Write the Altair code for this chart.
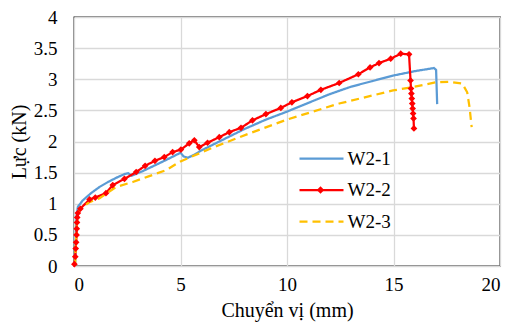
import altair as alt
import pandas as pd

series_names = ["W2-1", "W2-2", "W2-3"]
colors = ["#5B9BD5", "#FF0000", "#FFC000"]

w21_x = [0.05, 0.08, 0.12, 0.18, 0.4, 0.8, 1.2, 1.6, 2.0, 2.4, 2.55, 2.7, 3.2, 4.0, 4.6, 5.0, 5.15, 5.35, 5.6, 6.0, 7.0, 8.0, 9.0, 10.0, 11.0, 12.0, 13.0, 14.0, 15.0, 16.0, 16.9, 17.0, 17.05]
w21_y = [0, 0.4, 0.8, 0.95, 1.05, 1.17, 1.27, 1.35, 1.42, 1.48, 1.49, 1.45, 1.52, 1.65, 1.75, 1.82, 1.76, 1.74, 1.78, 1.86, 2.03, 2.2, 2.35, 2.48, 2.62, 2.76, 2.88, 2.97, 3.06, 3.13, 3.18, 3.15, 2.6]

w22_x = [0.02, 0.06, 0.08, 0.1, 0.12, 0.13, 0.14, 0.15, 0.18, 0.3, 0.73, 1.0, 1.5, 1.82, 2.37, 2.92, 3.34, 3.8, 4.24, 4.63, 5.02, 5.41, 5.65, 5.88, 6.27, 6.82, 7.29, 7.84, 8.38, 9.01, 9.71, 10.23, 10.96, 11.59, 12.45, 13.35, 13.9, 14.32, 14.87, 15.34, 15.73, 15.8, 15.82, 15.84, 15.86, 15.88, 15.9, 15.92, 15.94, 15.96]
w22_y = [0.03, 0.15, 0.28, 0.38, 0.5, 0.6, 0.7, 0.78, 0.85, 0.92, 1.07, 1.1, 1.17, 1.30, 1.40, 1.51, 1.61, 1.69, 1.75, 1.83, 1.87, 1.97, 2.02, 1.91, 1.98, 2.07, 2.15, 2.22, 2.34, 2.44, 2.54, 2.63, 2.73, 2.83, 2.94, 3.08, 3.19, 3.26, 3.33, 3.41, 3.40, 2.98, 2.85, 2.77, 2.69, 2.61, 2.53, 2.45, 2.37, 2.21]

w23_x = [0.05, 0.08, 0.12, 0.18, 0.34, 0.7, 1.2, 1.98, 2.76, 3.5, 4.32, 5.0, 5.4, 6.5, 8.23, 9.98, 12.45, 14.98, 16.0, 16.98, 17.6, 18.23, 18.46, 18.57, 18.67]
w23_y = [0, 0.3, 0.6, 0.85, 0.93, 1.02, 1.09, 1.27, 1.35, 1.44, 1.54, 1.68, 1.74, 1.9, 2.13, 2.35, 2.61, 2.82, 2.88, 2.95, 2.96, 2.93, 2.79, 2.55, 2.23]

x_ticks = [0, 5, 10, 15, 20]
y_ticks = [0, 0.5, 1, 1.5, 2, 2.5, 3, 3.5, 4]

rows = []
for name, xs, ys in [("W2-1", w21_x, w21_y), ("W2-2", w22_x, w22_y), ("W2-3", w23_x, w23_y)]:
    for i, (a, b) in enumerate(zip(xs, ys)):
        rows.append({"series": name, "x": a, "y": b, "idx": i})
df = pd.DataFrame(rows)
legend_df = pd.DataFrame({"series": series_names})

FONT = "Liberation Serif, Times New Roman, serif"

color_scale = alt.Scale(domain=series_names, range=colors)
dash_scale = alt.Scale(domain=series_names, range=[[1, 0], [1, 0], [8, 5]])

x_enc = alt.X("x:Q", scale=alt.Scale(domain=[0, 20], nice=False),
              axis=alt.Axis(values=x_ticks, title="Chuyển vị (mm)", format="~g", labelOverlap=False))
y_enc = alt.Y("y:Q", scale=alt.Scale(domain=[0, 4], nice=False),
              axis=alt.Axis(values=y_ticks, title="Lực (kN)", format="~g", labelOverlap=False))

lines = alt.Chart(df).mark_line(strokeWidth=2.25).encode(
    x=x_enc, y=y_enc,
    color=alt.Color("series:N", scale=color_scale, legend=None),
    strokeDash=alt.StrokeDash("series:N", scale=dash_scale, legend=None),
    order="idx:Q",
)

points = alt.Chart(df).transform_filter(alt.datum.series == "W2-2").mark_point(
    shape="diamond", filled=True, size=45, opacity=1, color="#FF0000"
).encode(x=x_enc, y=y_enc)

data_layer = alt.layer(lines, points)

# legend built from the series names
leg_y = alt.Y("series:N", scale=alt.Scale(type="point", domain=series_names, range=[141.5, 204.5], padding=0), axis=None)
leg_rule = alt.Chart(legend_df).mark_rule(strokeWidth=2.25).encode(
    x=alt.value(225.5), x2=alt.value(269.5), y=leg_y,
    color=alt.Color("series:N", scale=color_scale, legend=None),
    strokeDash=alt.StrokeDash("series:N", scale=dash_scale, legend=None),
)
leg_pt = alt.Chart(legend_df).transform_filter(alt.datum.series == "W2-2").mark_point(
    shape="diamond", filled=True, size=55, opacity=1, color="#FF0000"
).encode(x=alt.value(246.5), y=leg_y)
leg_text = alt.Chart(legend_df).mark_text(align="left", baseline="middle", font=FONT, fontSize=19, color="black").encode(
    x=alt.value(273.5), y=leg_y, text="series:N"
)
legend_layer = alt.layer(leg_rule, leg_pt, leg_text)

chart = alt.layer(data_layer, legend_layer).resolve_scale(y="independent").properties(
    width=426, height=249,
    autosize=alt.AutoSizeParams(type="none"),
    padding={"left": 66, "top": 9, "right": 2, "bottom": 58},
).configure_view(stroke="black", strokeWidth=1.3).configure_axis(
    grid=True, gridColor="#d9d9d9", gridWidth=1.3, ticks=False,
    domain=False, labelFont=FONT, titleFont=FONT, labelFontSize=19, titleFontSize=20,
    labelColor="black", titleColor="black", titleFontWeight="normal",
).configure_axisX(labelPadding=9, titlePadding=6).configure_axisY(labelPadding=17, titlePadding=4)

chart.save("out.html", embed_options={"renderer": "svg", "actions": False})
